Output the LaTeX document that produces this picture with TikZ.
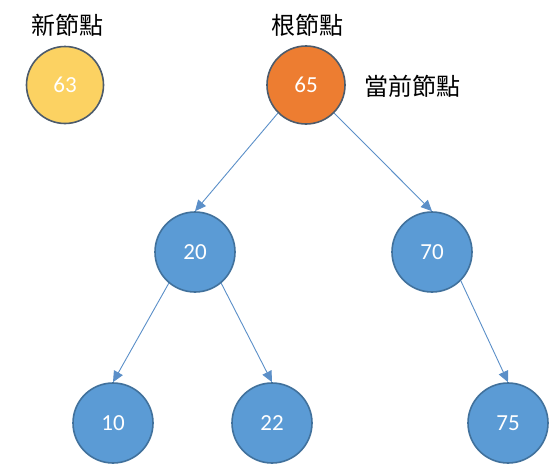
\documentclass[tikz,border=0pt]{standalone}
\usepackage{fontspec}
\newfontfamily\cjkfont{Noto Sans CJK TC}
\newfontfamily\numfont{Carlito}
\usetikzlibrary{arrows.meta}
\definecolor{nodeyellow}{HTML}{FCD262}
\definecolor{nodeorange}{HTML}{ED7D31}
\definecolor{nodeblue}{HTML}{5B9BD5}
\definecolor{edgeline}{HTML}{41719C}
\definecolor{darkedge}{HTML}{4C5B6C}
\definecolor{arrowblue}{HTML}{5B8FC8}
\begin{document}
\begin{tikzpicture}[x=1pt,y=-1pt,
  treenode/.style={circle, minimum size=80pt, inner sep=0pt, line width=1.6pt,
    font=\numfont\fontsize{23}{23}\selectfont, text=white},
  bluenode/.style={treenode, fill=nodeblue, draw=edgeline},
  newnode/.style={treenode, minimum size=77pt, fill=nodeyellow, draw=darkedge},
  rootnode/.style={treenode, minimum size=78pt, fill=nodeorange, draw=darkedge},
  caption/.style={font=\cjkfont\fontsize{24}{24}\selectfont, text=black, inner sep=0pt},
  link/.style={draw=arrowblue, line width=0.9pt, -{Triangle[length=11pt,width=10pt]}}
]
\useasboundingbox (0,0) rectangle (551,463);
\node[newnode] (n63) at (65,85) {63};
\node[rootnode] (n65) at (306,85) {65};
\node[bluenode] (n20) at (195,252) {20};
\node[bluenode] (n70) at (432,252) {70};
\node[bluenode] (n10) at (113,423) {10};
\node[bluenode] (n22) at (272,423) {22};
\node[bluenode] (n75) at (508,423) {75};
\node[caption] (lnew) at (67,25) {新節點};
\node[caption] (lroot) at (307,25) {根節點};
\node[caption] (lcur) at (412,86) {當前節點};
\draw[link] (n65.-135) -- (n20.north);
\draw[link] (n65.-45) -- (n70.north);
\draw[link] (n20.-130) -- (n10.north);
\draw[link] (n20.-50) -- (n22.north);
\draw[link] (n70.-45) -- (n75.north);
\end{tikzpicture}
\end{document}
